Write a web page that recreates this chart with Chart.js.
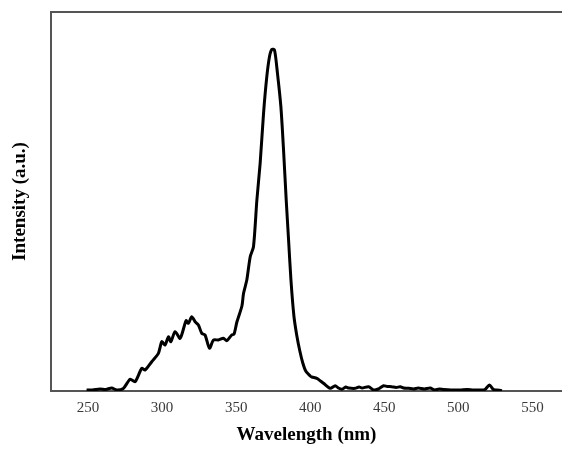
<!DOCTYPE html>
<html>
<head>
<meta charset="utf-8">
<script src="https://cdn.jsdelivr.net/npm/chart.js@4/dist/chart.umd.min.js"></script>
<style>
  html, body { margin: 0; padding: 0; background: #fff; }
  #wrap { width: 562px; height: 449px; }
</style>
</head>
<body>
<div id="wrap"><canvas id="c" width="562" height="449"></canvas></div>
<script>
const wavelengths = [
  249, 253, 258, 262, 266, 269.4, 273.9, 278.4, 281.8, 286.3, 288.5, 293, 297.5, 299.8, 302, 304.3,
  305.9, 308.8, 312.2, 316.2, 317.8, 320, 322.3, 324.5, 326.8, 329, 332, 334.7, 338, 341.4, 343.7,
  347, 348.6, 350.5, 353.9, 355, 357.2, 359.5, 361.7, 364, 366.2, 368.5, 370.7, 372.5, 374.1, 375.9,
  377.9, 380.2, 382, 383.8, 385.4, 387, 389, 391, 393, 395, 397, 400, 401.1, 404.5, 407, 409, 413.5,
  416.9, 419, 421.4, 424, 426, 430.4, 433, 435, 439.4, 442.8, 446, 449.5, 452, 455, 458, 460.8, 463,
  466.5, 469.8, 473, 477, 481, 484, 487, 490, 495, 501, 506, 510, 514.6, 518, 521, 523.7, 526, 529.5
];
const intensity = [
  1, 1, 2, 1.5, 3, 1, 2.7, 11.7, 9.3, 22.7, 21, 29.3, 37.7, 49.3, 46, 54.3,
  49.3, 59.3, 52.7, 70.3, 67.7, 74.3, 69.3, 66, 57.7, 56, 42.7, 51, 51, 52.7, 50.3,
  56, 57, 69, 85, 97.7, 111, 134.3, 144.3, 191, 227.7, 277.7, 314.3, 334.3, 341.7, 341,
  317.7, 284.3, 241, 191, 151, 111, 75, 55, 40, 28, 20, 15, 14, 12.7, 10, 7.7, 2.7,
  5.3, 3, 1.7, 4, 3, 2.7, 4, 3, 4.3, 1, 2, 5.3, 4.5, 4.3, 3.5, 4.3, 3,
  2.7, 2, 3, 2, 3, 1, 2, 1.5, 1, 1, 1.5, 1, 1, 1.5, 6, 1.5, 1, 0.3
];
const xTickValues = [250, 300, 350, 400, 450, 500, 550];
const xMin = 225, xMax = 570;
const yMin = 0, yMax = 379;

const points = wavelengths.map((w, i) => ({ x: w, y: intensity[i] }));

const topBorder = {
  id: 'topBorder',
  afterDraw(chart) {
    const { ctx, chartArea } = chart;
    ctx.save();
    ctx.strokeStyle = '#555';
    ctx.lineWidth = 2;
    ctx.beginPath();
    ctx.moveTo(chartArea.left - 1, chartArea.top);
    ctx.lineTo(chartArea.right, chartArea.top);
    ctx.stroke();
    ctx.restore();
  }
};

new Chart(document.getElementById('c'), {
  type: 'line',
  data: {
    datasets: [{
      data: points,
      borderColor: '#000',
      borderWidth: 3,
      pointRadius: 0,
      tension: 0.25,
      fill: false
    }]
  },
  options: {
    responsive: false,
    animation: false,
    devicePixelRatio: 1,
    layout: { padding: { top: 12, right: 0, left: 0, bottom: 0 } },
    plugins: { legend: { display: false }, tooltip: { enabled: false } },
    scales: {
      x: {
        type: 'linear',
        min: xMin,
        max: xMax,
        afterBuildTicks(scale) { scale.ticks = xTickValues.map(v => ({ value: v })); },
        afterFit(scale) { scale.height = 58; },
        grid: { display: false, drawTicks: false },
        border: { display: true, color: '#555', width: 2 },
        ticks: {
          color: '#3a3a3a',
          padding: 8,
          maxRotation: 0,
          autoSkip: false,
          font: { family: "'Liberation Serif', 'Times New Roman', serif", size: 15 }
        },
        title: {
          display: true,
          text: 'Wavelength (nm)',
          color: '#000',
          padding: { top: 0, bottom: 3 },
          font: { family: "'Liberation Serif', 'Times New Roman', serif", size: 19, weight: 'bold' }
        }
      },
      y: {
        min: yMin,
        max: yMax,
        afterFit(scale) { scale.width = 51; },
        grid: { display: false, drawTicks: false },
        border: { display: true, color: '#555', width: 2 },
        ticks: { display: false },
        title: {
          display: true,
          text: 'Intensity (a.u.)',
          color: '#000',
          padding: { top: 9, bottom: 0 },
          font: { family: "'Liberation Serif', 'Times New Roman', serif", size: 19, weight: 'bold' }
        }
      }
    }
  },
  plugins: [topBorder]
});
</script>
</body>
</html>
